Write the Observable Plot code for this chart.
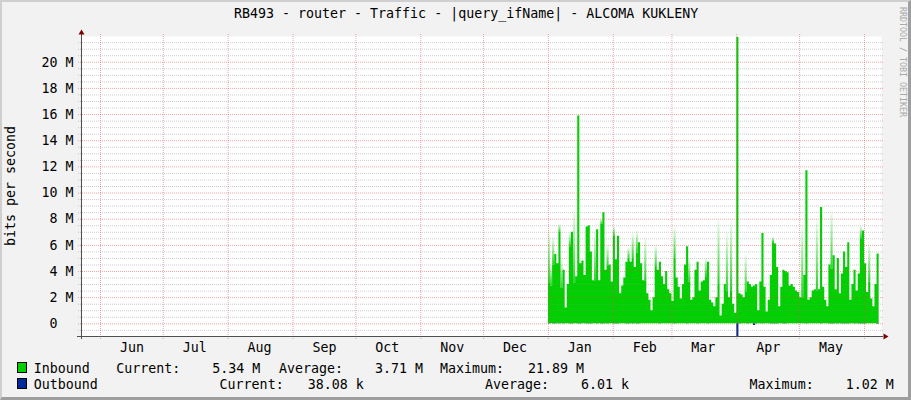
<!DOCTYPE html>
<html><head><meta charset="utf-8">
<script src="https://cdn.jsdelivr.net/npm/d3@7"></script>
<script src="https://cdn.jsdelivr.net/npm/@observablehq/plot@0.6"></script>
<style>
html,body{margin:0;padding:0;background:#F2F2F2;}
#wrap{position:relative;width:911px;height:400px;background:#F2F2F2;overflow:hidden;font-family:'DejaVu Sans Mono',monospace;color:#000;}
#chart{position:absolute;left:0;top:0;}
.t{position:absolute;white-space:pre;font-size:13.3px;line-height:16px;}
#frame{position:absolute;left:0;top:0;width:911px;height:400px;border-style:solid;border-width:2px 3px 3px 2px;border-color:#CFCFCF #9E9E9E #9E9E9E #CFCFCF;box-sizing:border-box;pointer-events:none;}
.box{position:absolute;width:10px;height:11px;border:1px solid #000;box-sizing:border-box;}
</style></head>
<body><div id="wrap"><div id="chart"></div><div id="frame"></div></div>
<script>
// ---------- data (M bits/s, one value per day from 2023-01-01) ----------
const inbound = [
 3.1, 2.9, 4.5, 5.3, 4.6, 7.0, 2.7, 4.1, 1.2, 3.0,
 5.9, 7.0, 3.1, 3.6, 15.9, 4.6, 4.8, 3.7, 7.4, 7.5,
 5.5, 3.3, 3.3, 7.2, 3.3, 7.6, 8.5, 4.1, 4.4, 4.5,
 3.2, 6.7, 4.9, 6.7, 2.3, 2.9, 3.5, 4.7, 5.0, 4.7,
 5.0, 4.3, 5.4, 6.2, 4.6, 3.3, 3.3, 2.3, 1.8, 1.0,
 2.0, 4.3, 4.1, 4.7, 3.6, 3.0, 4.0, 2.6, 2.3, 1.7,
 5.0, 3.5, 2.8, 1.9, 3.0, 4.5, 5.9, 3.2, 1.8, 2.0,
 4.1, 4.7, 2.5, 3.2, 3.3, 3.6, 4.7, 1.8, 1.6, 1.3,
 2.0, 3.0, 0.6, 1.5, 3.0, 2.5, 2.0, 2.5, 1.5, 0.8,
 21.89, 2.3, 2.2, 2.0, 2.4, 3.2, 3.0, 2.8, 2.9, 3.0,
 1.0, 3.2, 6.9, 2.8, 0.9, 1.8, 3.7, 6.2, 6.1, 4.3,
 1.3, 2.8, 4.1, 4.0, 3.9, 2.9, 3.0, 2.8, 2.5, 2.4,
 2.0, 2.0, 3.7, 11.7, 1.8, 2.0, 2.5, 2.6, 2.5, 2.6,
 8.9, 2.8, 1.8, 1.3, 4.5, 4.2, 5.2, 2.6, 5.0, 2.3,
 3.8, 5.5, 4.3, 6.2, 1.8, 3.0, 4.1, 2.5, 3.8, 6.5,
 7.1, 4.6, 2.4, 3.2, 1.9, 1.3, 3.0, 5.34
];
// faded spike tips (day index, peak M)
const peakDays   = [0, 1, 2, 5, 6, 10, 12, 22, 25, 28, 31, 38, 40, 42, 46, 51, 60, 67, 75, 81, 85, 87, 94, 107, 121, 128, 135, 149, 153];
const peakValues = [7.2, 4.5, 6.6, 7.6, 5.0, 6.9, 8.7, 7.0, 8.0, 6.0, 7.4, 5.8, 6.9, 7.1, 6.6, 6.0, 7.4, 5.0, 5.0, 8.0, 7.0, 7.9, 5.3, 6.6, 7.5, 8.0, 8.7, 7.5, 6.1];
const outbound = [
 0.005,0.004,0.006,0.005,0.004,0.006,0.003,0.005,0.002,0.004,
 0.006,0.005,0.004,0.004,0.008,0.005,0.004,0.004,0.006,0.006,
 0.005,0.004,0.004,0.006,0.003,0.006,0.007,0.004,0.005,0.004,
 0.004,0.006,0.005,0.005,0.003,0.003,0.004,0.005,0.005,0.004,
 0.005,0.004,0.005,0.006,0.004,0.003,0.004,0.003,0.002,0.002,
 0.003,0.004,0.004,0.005,0.004,0.003,0.004,0.003,0.003,0.002,
 0.005,0.004,0.003,0.002,0.003,0.004,0.005,0.004,0.002,0.003,
 0.004,0.005,0.003,0.003,0.004,0.004,0.005,0.002,0.002,0.002,
 0.003,0.004,0.001,0.002,0.003,0.003,0.003,0.003,0.002,0.001,
 1.02,0.006,0.004,0.003,0.004,0.005,0.004,0.004,0.12,0.005,
 0.002,0.004,0.008,0.004,0.002,0.003,0.005,0.007,0.007,0.005,
 0.003,0.004,0.005,0.005,0.004,0.004,0.004,0.004,0.003,0.003,
 0.003,0.003,0.004,0.012,0.003,0.003,0.004,0.004,0.004,0.004,
 0.010,0.004,0.003,0.002,0.005,0.005,0.006,0.004,0.006,0.003,
 0.005,0.006,0.005,0.007,0.003,0.004,0.005,0.004,0.005,0.007,
 0.008,0.005,0.004,0.004,0.003,0.002,0.004,0.038
];
const yTicks = [0, 2e6, 4e6, 6e6, 8e6, 10e6, 12e6, 14e6, 16e6, 18e6, 20e6];
const monthStarts = ["2022-06-01","2022-07-01","2022-08-01","2022-09-01","2022-10-01","2022-11-01","2022-12-01","2023-01-01","2023-02-01","2023-03-01","2023-04-01","2023-05-01","2023-06-01"];
const monthLabels = ["Jun","Jul","Aug","Sep","Oct","Nov","Dec","Jan","Feb","Mar","Apr","May"];
const legendNames = ["Inbound","Outbound"];
const legendColors = ["#00CF00","#002A97"];
const inboundStats = ["5.34 M","3.71 M","21.89 M"];
const outboundStats = ["38.08 k","6.01 k","1.02 M"];
const title = "RB493 - router - Traffic - |query_ifName| - ALCOMA KUKLENY";

// ---------- build ----------
const DAY = 864e5;
const t0 = Date.UTC(2023,0,1);
// step series: each day's value holds until the next day; the last one holds to the end of its day
const stepIn = inbound.map((v,i)=>({t:new Date(t0+i*DAY), v:v*1e6}));
stepIn.push({t:new Date(t0+inbound.length*DAY), v:inbound[inbound.length-1]*1e6});
const stepOut = outbound.map((v,i)=>({t:new Date(t0+i*DAY), v:-v*1e6}));
stepOut.push({t:new Date(t0+outbound.length*DAY), v:-outbound[outbound.length-1]*1e6});
const peaks = peakDays.map((d,k)=>({start:new Date(t0+d*DAY), end:new Date(t0+(d+1)*DAY), lo:inbound[d]*1e6, hi:peakValues[k]*1e6}));
const monthStartDates = monthStarts.map(s=>new Date(s+"T00:00Z"));
const monthMids = monthStartDates.slice(0,-1).map((d,i)=>new Date(+d + 15*DAY));
const xDomain = [new Date("2022-05-22T22:00Z"), new Date("2023-06-09T03:00Z")];
const yDomain = [-0.97e6, 21.97e6];
const minorGrid = d3.range(-0.5e6, 21.9e6, 0.5e6).filter(v=>Math.abs(v % 2e6) > 1);
const arrowRight = {draw(c){c.moveTo(3,0);c.lineTo(-2,-3);c.lineTo(-2,3);c.closePath();}};
const arrowUp = {draw(c){c.moveTo(0,-3);c.lineTo(3,2);c.lineTo(-3,2);c.closePath();}};

const svg = Plot.plot({
  width: 911, height: 400,
  marginLeft: 81, marginRight: 30, marginTop: 36, marginBottom: 64,
  style: {background:"transparent", fontFamily:"'DejaVu Sans Mono', monospace", fontSize:"13.3px", color:"#000", overflow:"visible"},
  x: {type:"utc", domain:xDomain, ticks:monthMids, tickSize:0, tickPadding:6, label:null,
      tickFormat: d => monthLabels[monthMids.findIndex(m => +m === +d)]},
  y: {domain:yDomain, ticks:yTicks, tickSize:0, tickPadding:8, label:null,
      tickFormat: v => v === 0 ? "0\u00a0\u00a0" : `${v/1e6} M`},
  marks: [
    Plot.frame({fill:"white", stroke:"none"}),
    Plot.rectY(peaks, {x1:"start", x2:"end", y1:"lo", y2:"hi", fill:"url(#fade)"}),
    Plot.areaY(stepIn, {x:"t", y:"v", curve:"step-after", fill:"#00CF00"}),
    Plot.areaY(stepOut, {x:"t", y:"v", curve:"step-after", fill:"#002A97"}),
    Plot.ruleY(minorGrid, {stroke:"#8f8f8f", strokeOpacity:0.45, strokeDasharray:"1,1", insetLeft:-3, insetRight:-2}),
    Plot.ruleY(yTicks, {stroke:"#de4f4f", strokeOpacity:0.5, strokeDasharray:"1,1", insetLeft:-3, insetRight:-2}),
    Plot.ruleX(monthStartDates, {stroke:"#de4f4f", strokeOpacity:0.5, strokeDasharray:"1,1", insetTop:-2, insetBottom:-3}),
    Plot.ruleY([yDomain[0]], {stroke:"#4f4f4f", insetLeft:-4, insetRight:-2}),
    Plot.ruleX([xDomain[0]], {stroke:"#4f4f4f", insetTop:-2, insetBottom:-3}),
    Plot.dot([{x:xDomain[1], y:yDomain[0]}], {x:"x", y:"y", symbol:arrowRight, fill:"#7f0000", r:3, dx:4}),
    Plot.dot([{x:xDomain[0], y:yDomain[1]}], {x:"x", y:"y", symbol:arrowUp, fill:"#7f0000", r:3, dy:-4})
  ]
});
const defs = document.createElementNS("http://www.w3.org/2000/svg","defs");
defs.innerHTML = '<linearGradient id="fade" x1="0" y1="0" x2="0" y2="1"><stop offset="0" stop-color="#00CF00" stop-opacity="0.03"/><stop offset="1" stop-color="#00CF00" stop-opacity="0.85"/></linearGradient>';
svg.insertBefore(defs, svg.firstChild);
document.getElementById("chart").appendChild(svg);

// ---------- text around the plot ----------
const wrap = document.getElementById("wrap");
function addText(str, left, top, extra){
  const el = document.createElement("div");
  el.className = "t"; el.textContent = str;
  el.style.left = left+"px"; el.style.top = top+"px";
  if (extra) Object.assign(el.style, extra);
  wrap.appendChild(el); return el;
}
addText(title, 234, 6);
addText("bits per second", 10.5-100, 186-8, {width:"200px", textAlign:"center", transform:"rotate(-90deg)"});
addText("RRDTOOL / TOBI OETIKER", 903-60, 62-6, {width:"120px", textAlign:"center", fontSize:"8.3px", lineHeight:"12px", color:"#a8a8a8", transform:"rotate(90deg)"});
const pad = (s, n) => s.padStart(n);
const rows = [
  {y:361, box:362, name:legendNames[0], color:legendColors[0], stats:inboundStats, pos:[116.2, 278.9, 440]},
  {y:376.5, box:378, name:legendNames[1], color:legendColors[1], stats:outboundStats, pos:[219.6, 485, 749.6]}
];
const labels = ["Current:","Average:","Maximum:"];
rows.forEach(r=>{
  const b = document.createElement("div"); b.className="box";
  b.style.left="17px"; b.style.top=r.box+"px"; b.style.background=r.color; wrap.appendChild(b);
  addText(r.name, 33.7, r.y);
  r.stats.forEach((s,i)=>{
    const [num, unit] = s.split(" ");
    addText(labels[i] + pad(num, 8) + " " + unit, r.pos[i], r.y);
  });
});
</script></body></html>
